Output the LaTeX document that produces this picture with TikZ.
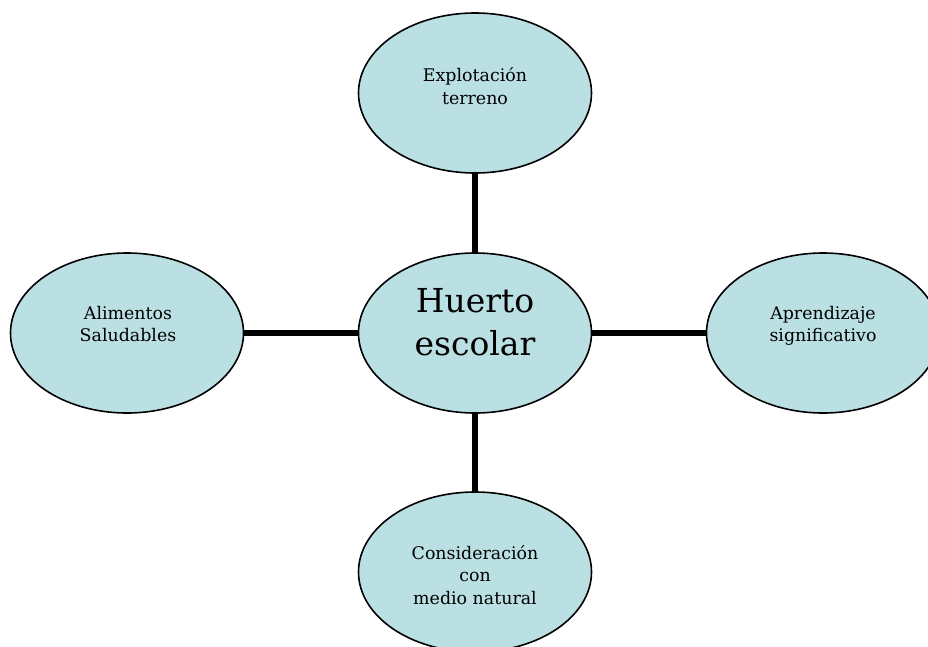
\documentclass[tikz,border=0pt]{standalone}
\usepackage{fontspec}
\setmainfont{DejaVu Serif}
\usetikzlibrary{shapes.geometric}
\definecolor{bubblefill}{RGB}{187,224,227}
\begin{document}
\begin{tikzpicture}[x=1pt,y=-1pt,
  bubble/.style={ellipse, draw=black, line width=1.6pt, fill=bubblefill,
    minimum width=233pt, minimum height=160pt, inner sep=0pt},
  small/.style={align=center, font=\fontsize{17.4}{22.5}\selectfont, inner sep=0pt},
  big/.style={align=center, font=\fontsize{33}{43}\selectfont, inner sep=0pt},
  conn/.style={line width=5.5pt, draw=black}]
\useasboundingbox (0,0) rectangle (928,646);
\node[bubble] (top) at (475,93) {};
\node[bubble] (mid) at (475,333) {};
\node[bubble] (left) at (127,333) {};
\node[bubble] (right) at (823,333) {};
\node[bubble] (bot) at (475,572) {};
\node[small] (ttop) at (475,86) {Explotación\\terreno};
\node[big] (tmid) at (475,322) {Huerto\\escolar};
\node[small] (tleft) at (128,324) {Alimentos\\Saludables};
\node[small] (tright) at (823,326) {Aprendizaje\\significativo};
\node[small] (tbot) at (475,575) {Consideración\\con\\medio natural};
\draw[conn] (top) -- (mid);
\draw[conn] (mid) -- (bot);
\draw[conn] (left) -- (mid);
\draw[conn] (mid) -- (right);
\end{tikzpicture}
\end{document}
